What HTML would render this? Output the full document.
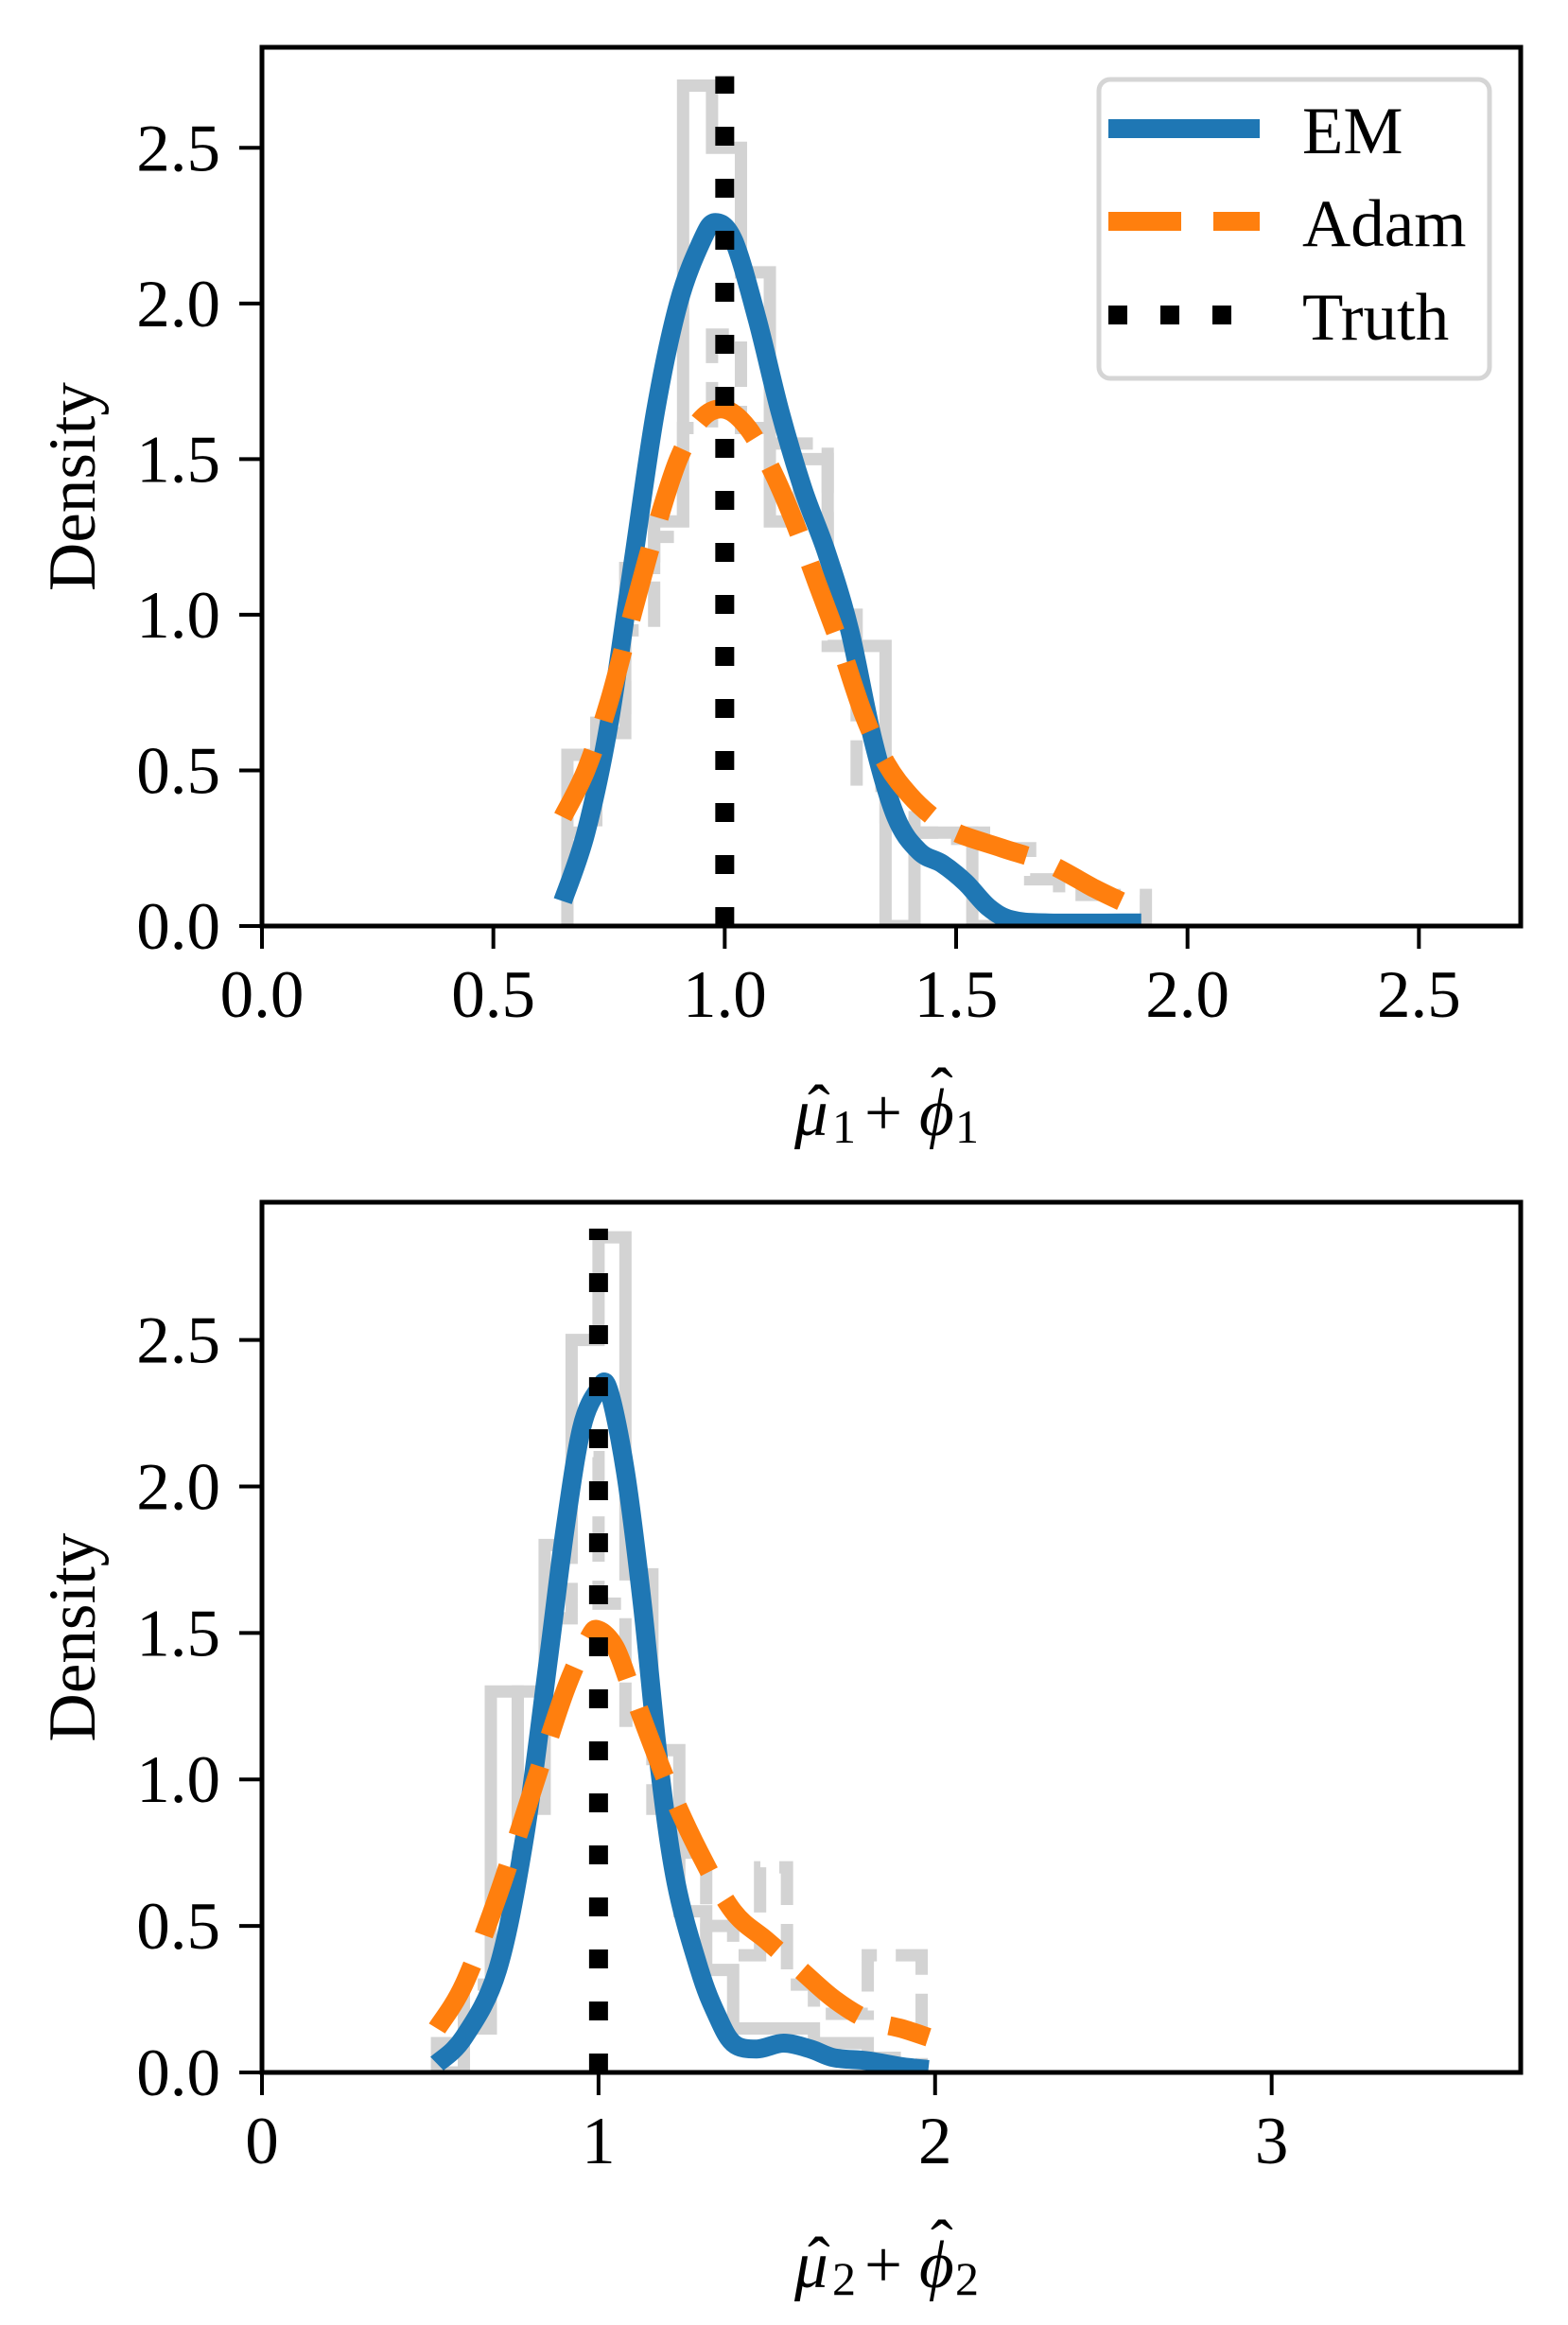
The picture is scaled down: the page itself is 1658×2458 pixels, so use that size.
<!DOCTYPE html>
<html><head><meta charset="utf-8"><style>
html,body{margin:0;padding:0;background:#fff;}
svg{display:block;font-family:"Liberation Serif",serif;}
</style></head><body>
<svg id="fig" width="1658" height="2458" viewBox="0 0 1658 2458" xmlns="http://www.w3.org/2000/svg">
<rect width="1658" height="2458" fill="#fff"/>
<g id="p1"></g>
<g id="p2"></g>
</svg>
<script>
// ---- Top panel data ----
const top_xticks = [0, 0.5, 1.0, 1.5, 2.0, 2.5];
const top_xtickLabels = ["0.0","0.5","1.0","1.5","2.0","2.5"];
const top_yticks = [0, 0.5, 1.0, 1.5, 2.0, 2.5];
const top_ytickLabels = ["0.0","0.5","1.0","1.5","2.0","2.5"];
const top_emX = [0.65,0.7,0.75,0.8,0.85,0.9,0.95,0.98,1.02,1.07,1.12,1.17,1.22,1.27,1.32,1.37,1.42,1.47,1.52,1.57,1.62,1.7,1.9];
const top_emY = [0.08,0.3,0.65,1.15,1.65,2.0,2.2,2.26,2.2,1.95,1.65,1.4,1.2,0.95,0.6,0.35,0.24,0.2,0.14,0.06,0.02,0.01,0.01];
const top_adamX = [0.65,0.7,0.75,0.8,0.85,0.9,0.95,1.0,1.05,1.1,1.15,1.2,1.25,1.3,1.35,1.4,1.45,1.5,1.6,1.7,1.8,1.87];
const top_adamY = [0.35,0.5,0.72,1.0,1.27,1.5,1.63,1.66,1.6,1.47,1.3,1.1,0.9,0.68,0.52,0.42,0.35,0.3,0.25,0.2,0.12,0.07];
const top_histEdges = [0.66,0.7225,0.785,0.8475,0.91,0.9725,1.035,1.0975,1.16,1.2225,1.285,1.3475,1.41,1.4725,1.535,1.5975,1.66,1.7225,1.785,1.8475,1.91];
const top_histEM = [0.55,0.62,1.15,1.3,2.7,2.5,2.1,1.3,1.5,1.0,0.9,0.0,0.3,0.3,0.0,0,0,0,0,0];
const top_histAdam = [0.3,0.7,0.95,1.25,1.6,1.9,1.6,1.55,1.55,0.9,0.45,0.35,0.3,0.28,0.3,0.25,0.15,0.1,0.1,0.1];
const top_truth = [1.0];
// ---- Bottom panel data ----
const bot_xticks = [0,1,2,3];
const bot_xtickLabels = ["0","1","2","3"];
const bot_yticks = [0,0.5,1.0,1.5,2.0,2.5];
const bot_ytickLabels = ["0.0","0.5","1.0","1.5","2.0","2.5"];
const bot_emX = [0.52,0.6,0.7,0.78,0.85,0.9,0.95,1.0,1.03,1.08,1.13,1.18,1.23,1.3,1.35,1.4,1.47,1.55,1.63,1.7,1.8,1.9,1.98];
const bot_emY = [0.03,0.12,0.35,0.8,1.4,1.85,2.2,2.33,2.33,2.05,1.6,1.05,0.65,0.35,0.2,0.1,0.08,0.1,0.08,0.05,0.04,0.02,0.01];
const bot_adamX = [0.52,0.6,0.7,0.8,0.9,0.97,1.0,1.05,1.1,1.2,1.3,1.4,1.5,1.6,1.7,1.8,1.9,1.98];
const bot_adamY = [0.15,0.3,0.6,0.95,1.3,1.48,1.51,1.45,1.3,1.0,0.75,0.55,0.45,0.35,0.25,0.18,0.15,0.12];
const bot_histEdges = [0.52,0.6,0.68,0.76,0.84,0.92,1.0,1.08,1.16,1.24,1.32,1.4,1.48,1.56,1.64,1.72,1.8,1.88,1.96];
const bot_histEM = [0.0,0.15,1.3,0.9,1.8,2.5,2.85,1.7,1.1,0.55,0.35,0.15,0.15,0.15,0.1,0.1,0.05,0.0];
const bot_histAdam = [0.1,0.3,0.6,1.3,1.55,2.1,1.6,1.2,0.9,0.75,0.5,0.4,0.7,0.3,0.2,0.2,0.4,0.4];
const bot_truth = [1.0];

const NS = "http://www.w3.org/2000/svg";
function mk(parent, tag, attrs){
  const e = document.createElementNS(NS, tag);
  for (const k in attrs) e.setAttribute(k, attrs[k]);
  parent.appendChild(e); return e;
}
function smoothPath(pts){
  let d = "M"+pts[0][0]+","+pts[0][1];
  for (let i=0;i<pts.length-1;i++){
    const p0=pts[Math.max(0,i-1)], p1=pts[i], p2=pts[i+1], p3=pts[Math.min(pts.length-1,i+2)];
    const c1=[p1[0]+(p2[0]-p0[0])/6, p1[1]+(p2[1]-p0[1])/6];
    const c2=[p2[0]-(p3[0]-p1[0])/6, p2[1]-(p3[1]-p1[1])/6];
    d += " C"+c1[0]+","+c1[1]+" "+c2[0]+","+c2[1]+" "+p2[0]+","+p2[1];
  }
  return d;
}
function drawPanel(g, cfg){
  const L=277, R=1608, T=cfg.top, B=cfg.bottom;
  const sx = v => L + (v - 0) / cfg.xmax * (R - L);
  const sy = v => B - v / cfg.ymax * (B - T);
  const clip = "clip"+cfg.id;
  const defs = mk(g,"defs",{});
  const cp = mk(defs,"clipPath",{id:clip});
  mk(cp,"rect",{x:L,y:T,width:R-L,height:B-T});
  const plot = mk(g,"g",{"clip-path":"url(#"+clip+")"});
  function stepPath(edges, vals){
    let d = "M"+sx(edges[0])+","+sy(0);
    for (let i=0;i<vals.length;i++){
      d += " L"+sx(edges[i])+","+sy(vals[i])+" L"+sx(edges[i+1])+","+sy(vals[i]);
    }
    d += " L"+sx(edges[edges.length-1])+","+sy(0);
    return d;
  }
  const h1 = mk(plot,"path",{d:stepPath(cfg.edges,cfg.hEM),fill:"none",stroke:"#d3d3d3","stroke-width":13});
  
  
  const h2 = mk(plot,"path",{d:stepPath(cfg.edges,cfg.hAdam),fill:"none",stroke:"#d3d3d3","stroke-width":13,"stroke-dasharray":"48 20"});
  
  
  const pts = (xs,ys)=>xs.map((x,i)=>[sx(x),sy(ys[i])]);
  const em = mk(plot,"path",{d:smoothPath(pts(cfg.emX,cfg.emY)),fill:"none",stroke:"#1f77b4","stroke-width":20,"stroke-linejoin":"round"});
  
  
  const ad = mk(plot,"path",{d:smoothPath(pts(cfg.adamX,cfg.adamY)),fill:"none",stroke:"#ff7f0e","stroke-width":20,"stroke-dasharray":"77 34"});
  
  
  cfg.truth.forEach(t=>{
    const tl = mk(plot,"line",{x1:sx(t),x2:sx(t),y1:sy(0),y2:sy(cfg.truthTop),stroke:"#000","stroke-width":20,"stroke-dasharray":"20 35"});
    
    
  });
  const sp = mk(g,"rect",{x:L,y:T,width:R-L,height:B-T,fill:"none",stroke:"#000","stroke-width":5});
  
  
  cfg.xticks.forEach((v,i)=>{
    const x=sx(v);
    mk(g,"line",{x1:x,x2:x,y1:B,y2:B+24,stroke:"#000","stroke-width":4});
    const t = mk(g,"text",{x:x,y:B+96,"font-size":71,"text-anchor":"middle"});
    t.textContent = cfg.xtl[i];
    
    
  });
  cfg.yticks.forEach((v,i)=>{
    const y=sy(v);
    mk(g,"line",{x1:L-24,x2:L,y1:y,y2:y,stroke:"#000","stroke-width":4});
    const t = mk(g,"text",{x:L-44,y:y+24,"font-size":71,"text-anchor":"end"});
    t.textContent = cfg.ytl[i];
    
    
  });
  const yl = mk(g,"text",{x:0,y:0,"font-size":71,"text-anchor":"middle",transform:"translate(100,"+((T+B)/2)+") rotate(-90)"});
  yl.textContent = "Density";
  
  
  const xl = mk(g,"g",{});
  
  
  const by = cfg.xlabelY, x0 = 840;
  const parts = [
    ["μ", x0, by, 71, "italic"],
    ["ˆ", x0+14, by-4, 71, "normal"],
    [cfg.sub, x0+40, by+8, 50, "normal"],
    ["+", x0+74, by, 71, "normal"],
    ["ϕ", x0+132, by, 71, "italic"],
    ["ˆ", x0+144, by-22, 71, "normal"],
    [cfg.sub, x0+170, by+8, 50, "normal"]
  ];
  parts.forEach(p=>{
    const t = mk(xl,"text",{x:p[1],y:p[2],"font-size":p[3],"font-style":p[4]});
    t.textContent = p[0];
  });
}
drawPanel(document.getElementById("p1"),{id:1,top:50,bottom:979,xmax:2.72,ymax:2.823,
  xticks:top_xticks,xtl:top_xtickLabels,yticks:top_yticks,ytl:top_ytickLabels,
  emX:top_emX,emY:top_emY,adamX:top_adamX,adamY:top_adamY,edges:top_histEdges,hEM:top_histEM,hAdam:top_histAdam,
  truth:top_truth,truthTop:2.73,xlabelY:1200,sub:"1"});
drawPanel(document.getElementById("p2"),{id:2,top:1271,bottom:2191,xmax:3.74,ymax:2.97,
  xticks:bot_xticks,xtl:bot_xtickLabels,yticks:bot_yticks,ytl:bot_ytickLabels,
  emX:bot_emX,emY:bot_emY,adamX:bot_adamX,adamY:bot_adamY,edges:bot_histEdges,hEM:bot_histEM,hAdam:bot_histAdam,
  truth:bot_truth,truthTop:2.88,xlabelY:2418,sub:"2"});

const lg = mk(document.getElementById("p1"),"g",{});


mk(lg,"rect",{x:1162,y:84,width:413,height:316,rx:12,fill:"#fff",stroke:"#d5d5d5","stroke-width":5});
const legItems = [["EM","#1f77b4","none",136],["Adam","#ff7f0e","77 34",234],["Truth","#000","20 35",333]];
legItems.forEach(it=>{
  const e = mk(lg,"g",{});
  
  
  mk(e,"line",{x1:1172,x2:1332,y1:it[3],y2:it[3],stroke:it[1],"stroke-width":20,"stroke-dasharray":it[2]==="none"?"":it[2]});
  const t = mk(e,"text",{x:1377,y:it[3]+26,"font-size":71});
  t.textContent = it[0];
});
</script>
</body></html>
